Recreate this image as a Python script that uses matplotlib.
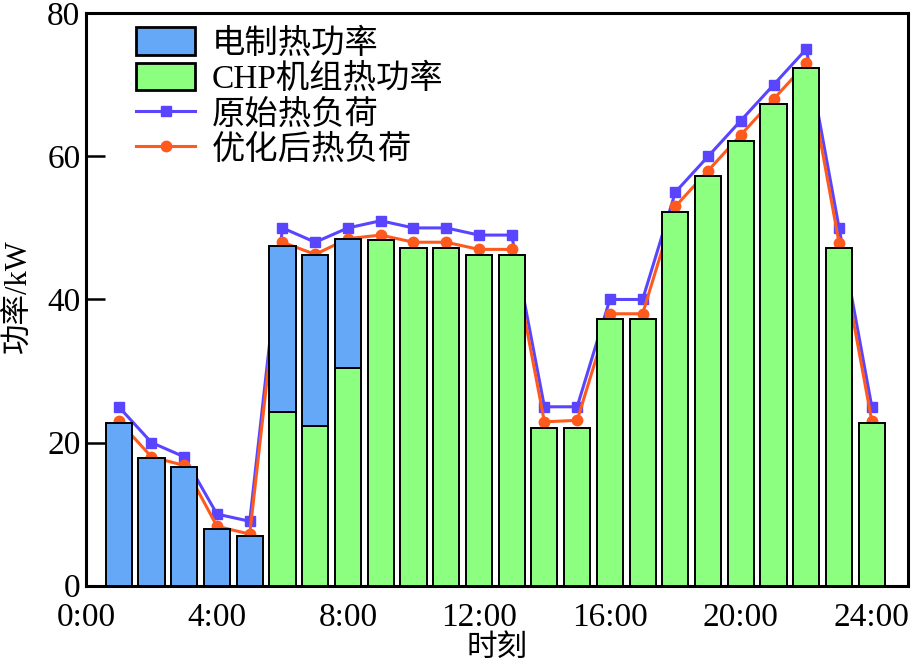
import matplotlib
matplotlib.use("Agg")
import matplotlib.pyplot as plt
from matplotlib.patches import Patch
import numpy as np

hours = list(range(1, 25))
elec_heat = [22.8, 17.8, 16.6, 7.9, 7.0, 23.2, 23.9, 18.1, 0, 0, 0, 0,
             0, 0, 0, 0, 0, 0, 0, 0, 0, 0, 0, 0]
chp_heat = [0, 0, 0, 0, 0, 24.3, 22.3, 30.4, 48.3, 47.2, 47.2, 46.2,
            46.2, 22.1, 22.1, 37.2, 37.2, 52.2, 57.2, 62.2, 67.3, 72.3, 47.2, 22.8]
orig_load = [25, 20, 18, 10, 9, 50, 48, 50, 51, 50, 50, 49,
             49, 25, 25, 40, 40, 55, 60, 65, 70, 75, 50, 25]
opt_load = [23, 18, 16.8, 8.3, 7.2, 48, 46.3, 48.5, 49, 48, 48, 47,
            47, 22.9, 23.1, 38, 38, 53, 58, 63, 68, 73, 47.9, 23]
xtick_vals = [0, 4, 8, 12, 16, 20, 24]
xtick_labels = ["0:00", "4:00", "8:00", "12:00", "16:00", "20:00", "24:00"]
ytick_vals = [0, 20, 40, 60, 80]
legend_labels = ['电制热功率', 'CHP机组热功率', '原始热负荷', '优化后热负荷']

plt.rcParams['font.family'] = ['Liberation Serif', 'Noto Sans CJK SC']
plt.rcParams['font.size'] = 24

BLUE_BAR = '#66A8F8'
GREEN_BAR = '#8CFF80'

fig = plt.figure(figsize=(9.17, 6.64), dpi=100)
ax = fig.add_axes([0.0938, 0.118, 0.8962, 0.862])

x = np.array(hours)
chp = np.array(chp_heat)
elec = np.array(elec_heat)

l1, = ax.plot(x, orig_load, color='#5A45FF', lw=2.2, marker='s', ms=7, zorder=2)
l2, = ax.plot(x, opt_load, color='#FF5A1E', lw=2.2, marker='o', ms=7.5, zorder=2)

b2 = ax.bar(x, chp, width=0.8, color=GREEN_BAR, edgecolor='black', lw=1.4, zorder=3)
b1 = ax.bar(x, elec, width=0.8, bottom=chp, color=BLUE_BAR, edgecolor='black', lw=1.4,
            zorder=3)
for r in list(b2) + list(b1):
    if r.get_height() == 0:
        r.set_visible(False)

ax.set_xlim(0, 25.1)
ax.set_ylim(0, 80)
ax.set_xticks(xtick_vals)
ax.set_xticklabels(xtick_labels)
ax.set_yticks(ytick_vals)
ax.tick_params(axis='both', direction='in', width=1.8, labelsize=24)
ax.tick_params(axis='x', length=11, pad=12)
ax.tick_params(axis='y', length=14, pad=4)
for s in ax.spines.values():
    s.set_linewidth(2.2)

ax.set_xlabel('时刻', fontsize=22)
ax.xaxis.set_label_coords(0.5, -0.084)
ax.set_ylabel('功率/kW', fontsize=22)
ax.yaxis.set_label_coords(-0.064, 0.506)

p1 = Patch(facecolor=BLUE_BAR, edgecolor='black', lw=2.0)
p2 = Patch(facecolor=GREEN_BAR, edgecolor='black', lw=2.0)
leg = ax.legend([p1, p2, l1, l2], legend_labels,
                loc='upper left', bbox_to_anchor=(0.033, 1.016), frameon=False,
                fontsize=24, handlelength=1.76, handleheight=0.88, labelspacing=0.1,
                handletextpad=0.5, borderaxespad=0.3)

fig.savefig('out.png', dpi=100)
